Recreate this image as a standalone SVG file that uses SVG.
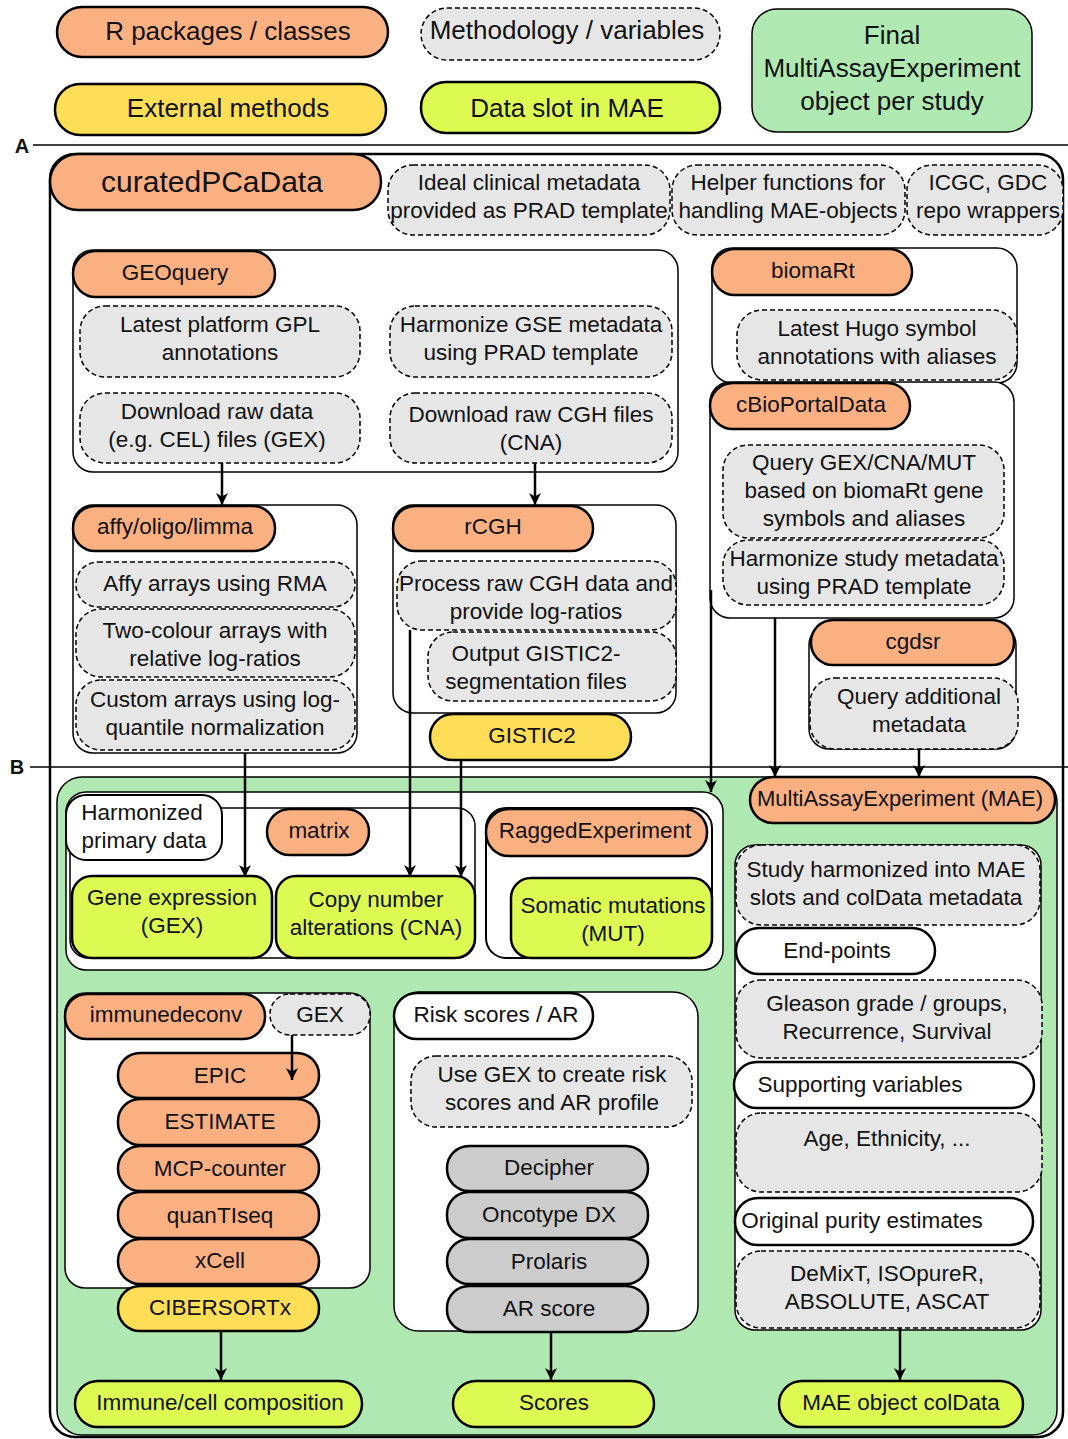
<svg xmlns="http://www.w3.org/2000/svg" width="1068" height="1439" viewBox="0 0 1068 1439">
<style>
text{font-family:"Liberation Sans",Arial,sans-serif;font-size:22.5px;text-anchor:middle;fill:#111}
.pk{fill:#fbb081;stroke:#000;stroke-width:2.5}
.ext{fill:#fedd57;stroke:#000;stroke-width:2.5}
.slot{fill:#ddfa52;stroke:#000;stroke-width:2.5}
.meth{fill:#e6e6e6;stroke:#000;stroke-width:1.5;stroke-dasharray:5,3}
.cont{fill:#fff;stroke:#000;stroke-width:1.5}
.wp{fill:#fff;stroke:#000;stroke-width:2.5}
.gray{fill:#cccccc;stroke:#000;stroke-width:2.5}
.fin{fill:#afe9b1;stroke:#000;stroke-width:1.5}
.conn{stroke:#000;stroke-width:2.5;fill:none;marker-end:url(#ah)}
.sep{stroke:#000;stroke-width:1.5}
.lg{font-size:26px}
.lbl{font-weight:bold;font-size:20px}
</style>
<defs>
<marker id="ah" markerWidth="12" markerHeight="12" viewBox="0 0 10 10" refX="10" refY="5" orient="auto" markerUnits="userSpaceOnUse">
<path d="M0,0 L10,5 L0,10 L3,5 z" fill="#000"/>
</marker>
</defs>
<rect width="1068" height="1439" fill="#fff"/>

<!-- Legend -->
<g id="legend">
<g id="lg-pkg"><rect class="pk" x="57" y="7" width="331" height="50" rx="25"/><text class="lg" x="228" y="40">R packages / classes</text></g>
<g id="lg-meth"><rect class="meth" x="421" y="8" width="299" height="52" rx="26"/><text class="lg" x="567" y="39">Methodology / variables</text></g>
<g id="lg-final"><rect class="fin" x="752" y="9" width="280" height="123" rx="25"/><text class="lg" x="892" y="44">Final</text><text class="lg" x="892" y="77">MultiAssayExperiment</text><text class="lg" x="892" y="110">object per study</text></g>
<g id="lg-ext"><rect class="ext" x="55" y="84" width="331" height="51" rx="25"/><text class="lg" x="228" y="117">External methods</text></g>
<g id="lg-slot"><rect class="slot" x="421" y="82" width="299" height="51" rx="25"/><text class="lg" x="567" y="117">Data slot in MAE</text></g>
</g>

<!-- Outer box -->
<g id="outer"><rect x="50" y="154" width="1013" height="1283" rx="25" fill="#fff" stroke="#000" stroke-width="2.5"/></g>

<line class="sep" x1="33" y1="145" x2="1068" y2="145"/>
<text class="lbl" x="22" y="153">A</text>
<line class="sep" x1="30" y1="767" x2="1068" y2="767"/>
<text class="lbl" x="17" y="774">B</text>

<g id="curatedPCaData"><rect class="pk" x="50" y="154" width="331" height="56" rx="28"/><text x="212" y="192" style="font-size:30px">curatedPCaData</text></g>
<g id="ideal"><rect class="meth" x="388" y="165" width="282" height="70" rx="25"/><text x="529" y="190">Ideal clinical metadata</text><text x="529" y="218">provided as PRAD template</text></g>
<g id="helper"><rect class="meth" x="672" y="165" width="233" height="70" rx="25"/><text x="788" y="190">Helper functions for</text><text x="788" y="218">handling MAE-objects</text></g>
<g id="icgc"><rect class="meth" x="907" y="165" width="156" height="70" rx="25"/><text x="988" y="190">ICGC, GDC</text><text x="988" y="218">repo wrappers</text></g>

<!-- GEOquery -->
<g id="geoquery">
<rect class="cont" x="73" y="250" width="605" height="222" rx="20"/>
<rect class="pk" x="73" y="251" width="202" height="46" rx="23"/><text x="175" y="280">GEOquery</text>
<rect class="meth" x="80" y="306" width="280" height="71" rx="25"/><text x="220" y="332">Latest platform GPL</text><text x="220" y="360">annotations</text>
<rect class="meth" x="390" y="306" width="282" height="71" rx="25"/><text x="531" y="332">Harmonize GSE metadata</text><text x="531" y="360">using PRAD template</text>
<rect class="meth" x="80" y="393" width="280" height="70" rx="25"/><text x="217" y="419">Download raw data</text><text x="217" y="447">(e.g. CEL) files (GEX)</text>
<rect class="meth" x="390" y="393" width="282" height="70" rx="25"/><text x="531" y="422">Download raw CGH files</text><text x="531" y="450">(CNA)</text>
</g>

<!-- biomaRt -->
<g id="biomart">
<rect class="cont" x="712" y="248" width="305" height="135" rx="20"/>
<rect class="pk" x="712" y="249" width="200" height="46" rx="23"/><text x="813" y="278">biomaRt</text>
<rect class="meth" x="737" y="310" width="280" height="70" rx="25"/><text x="877" y="336">Latest Hugo symbol</text><text x="877" y="364">annotations with aliases</text>
</g>

<!-- cBioPortalData -->
<g id="cbioportal">
<rect class="cont" x="710" y="382" width="304" height="236" rx="20"/>
<rect class="pk" x="710" y="383" width="200" height="46" rx="23"/><text x="811" y="412">cBioPortalData</text>
<rect class="meth" x="723" y="445" width="281" height="93" rx="25"/><text x="864" y="470">Query GEX/CNA/MUT</text><text x="864" y="498">based on biomaRt gene</text><text x="864" y="526">symbols and aliases</text>
<rect class="meth" x="723" y="540" width="281" height="65" rx="25"/><text x="864" y="566">Harmonize study metadata</text><text x="864" y="594">using PRAD template</text>
</g>

<!-- cgdsr -->
<g id="cgdsr">
<rect class="cont" x="809" y="625" width="207" height="124" rx="20"/>
<rect class="pk" x="811" y="620" width="203" height="45" rx="22"/><text x="913" y="649">cgdsr</text>
<rect class="meth" x="810" y="678" width="208" height="71" rx="25"/><text x="919" y="704">Query additional</text><text x="919" y="732">metadata</text>
</g>

<!-- affy -->
<g id="affy">
<rect class="cont" x="73" y="505" width="284" height="248" rx="20"/>
<rect class="pk" x="73" y="506" width="202" height="45" rx="22"/><text x="175" y="534">affy/oligo/limma</text>
<rect class="meth" x="76" y="562" width="279" height="45" rx="22"/><text x="215" y="591">Affy arrays using RMA</text>
<rect class="meth" x="76" y="609" width="279" height="68" rx="25"/><text x="215" y="638">Two-colour arrays with</text><text x="215" y="666">relative log-ratios</text>
<rect class="meth" x="76" y="680" width="279" height="70" rx="25"/><text x="215" y="707">Custom arrays using log-</text><text x="215" y="735">quantile normalization</text>
</g>

<!-- rCGH -->
<g id="rcgh">
<rect class="cont" x="393" y="505" width="283" height="208" rx="20"/>
<rect class="pk" x="393" y="506" width="200" height="45" rx="22"/><text x="493" y="534">rCGH</text>
<rect class="meth" x="397" y="561" width="279" height="69" rx="25"/><text x="536" y="591">Process raw CGH data and</text><text x="536" y="619">provide log-ratios</text>
<rect class="meth" x="428" y="632" width="248" height="69" rx="25"/><text x="536" y="661">Output GISTIC2-</text><text x="536" y="689">segmentation files</text>
</g>
<g id="gistic2"><rect class="ext" x="430" y="714" width="201" height="46" rx="23"/><text x="532" y="743">GISTIC2</text></g>

<!-- Green final area -->
<g id="final-area"><rect class="fin" x="57" y="777" width="1000" height="658" rx="25"/></g>

<g id="mae"><rect class="pk" x="750" y="777" width="305" height="46" rx="23"/><text x="900" y="806" style="font-size:22px">MultiAssayExperiment (MAE)</text></g>

<!-- Harmonized primary data -->
<g id="harmonized">
<rect class="cont" x="66" y="792" width="657" height="178" rx="20"/>
<rect class="cont" x="70" y="808" width="405" height="150" rx="18"/>
<rect x="66" y="795" width="156" height="65" rx="20" fill="#fff" stroke="#000" stroke-width="2"/>
<text x="142" y="820">Harmonized</text><text x="144" y="848">primary data</text>
<rect class="pk" x="267" y="809" width="102" height="46" rx="23"/><text x="319" y="838">matrix</text>
<rect class="slot" x="72" y="876" width="200" height="82" rx="20"/><text x="172" y="905">Gene expression</text><text x="172" y="933">(GEX)</text>
<rect class="slot" x="276" y="876" width="199" height="82" rx="20"/><text x="376" y="907">Copy number</text><text x="376" y="935">alterations (CNA)</text>
<rect class="cont" x="486" y="808" width="226" height="150" rx="20" style="stroke-width:2"/>
<rect class="pk" x="486" y="809" width="221" height="47" rx="23"/><text x="595" y="838">RaggedExperiment</text>
<rect class="slot" x="511" y="878" width="201" height="80" rx="20"/><text x="613" y="913">Somatic mutations</text><text x="613" y="941">(MUT)</text>
</g>

<!-- colData column -->
<g id="coldata">
<rect class="cont" x="735" y="845" width="306" height="485" rx="20"/>
<rect class="meth" x="736" y="845" width="304" height="80" rx="25"/><text x="886" y="877">Study harmonized into MAE</text><text x="886" y="905">slots and colData metadata</text>
<rect class="wp" x="736" y="928" width="199" height="46" rx="23"/><text x="837" y="958">End-points</text>
<rect class="meth" x="736" y="980" width="306" height="78" rx="25"/><text x="887" y="1011">Gleason grade / groups,</text><text x="887" y="1039">Recurrence, Survival</text>
<rect class="wp" x="734" y="1062" width="300" height="46" rx="23"/><text x="860" y="1092">Supporting variables</text>
<rect class="meth" x="736" y="1113" width="306" height="79" rx="25"/><text x="887" y="1146">Age, Ethnicity, ...</text>
<rect class="wp" x="735" y="1198" width="298" height="47" rx="23"/><text x="862" y="1228">Original purity estimates</text>
<rect class="meth" x="736" y="1251" width="304" height="77" rx="25"/><text x="887" y="1281">DeMixT, ISOpureR,</text><text x="887" y="1309">ABSOLUTE, ASCAT</text>
</g>

<!-- immunedeconv -->
<g id="immunedeconv">
<rect class="cont" x="65" y="993" width="305" height="295" rx="20"/>
<rect class="pk" x="65" y="994" width="200" height="45" rx="22"/><text x="166" y="1022">immunedeconv</text>
<rect class="meth" x="270" y="994" width="100" height="41" rx="20"/><text x="320" y="1022">GEX</text>
<rect class="pk" x="118" y="1053" width="201" height="45" rx="22"/><text x="220" y="1083">EPIC</text>
<rect class="pk" x="118" y="1099" width="201" height="46" rx="22"/><text x="220" y="1129">ESTIMATE</text>
<rect class="pk" x="118" y="1146" width="201" height="45" rx="22"/><text x="220" y="1176">MCP-counter</text>
<rect class="pk" x="118" y="1192" width="201" height="46" rx="22"/><text x="220" y="1223">quanTIseq</text>
<rect class="pk" x="118" y="1239" width="201" height="45" rx="22"/><text x="220" y="1268">xCell</text>
<rect class="ext" x="118" y="1286" width="201" height="45" rx="22"/><text x="220" y="1315">CIBERSORTx</text>
</g>

<!-- Risk scores -->
<g id="riskscores">
<rect class="cont" x="394" y="992" width="304" height="339" rx="25"/>
<rect class="wp" x="394" y="993" width="199" height="46" rx="23"/><text x="496" y="1022">Risk scores / AR</text>
<rect class="meth" x="411" y="1056" width="281" height="71" rx="25"/><text x="552" y="1082">Use GEX to create risk</text><text x="552" y="1110">scores and AR profile</text>
<rect class="gray" x="447" y="1146" width="201" height="45" rx="22"/><text x="549" y="1175">Decipher</text>
<rect class="gray" x="447" y="1192" width="201" height="46" rx="22"/><text x="549" y="1222">Oncotype DX</text>
<rect class="gray" x="447" y="1239" width="201" height="45" rx="22"/><text x="549" y="1269">Prolaris</text>
<rect class="gray" x="447" y="1286" width="201" height="46" rx="22"/><text x="549" y="1316">AR score</text>
</g>

<!-- Outputs -->
<g id="immune-out"><rect class="slot" x="75" y="1381" width="287" height="46" rx="23"/><text x="220" y="1410">Immune/cell composition</text></g>
<g id="scores-out"><rect class="slot" x="453" y="1381" width="201" height="46" rx="23"/><text x="554" y="1410">Scores</text></g>
<g id="coldata-out"><rect class="slot" x="779" y="1381" width="244" height="46" rx="23"/><text x="901" y="1410">MAE object colData</text></g>

<!-- Connectors -->
<g id="connectors">
<path class="conn" d="M222,463 L222,505"/>
<path class="conn" d="M535,463 L535,505"/>
<path class="conn" d="M245,753 L245,877"/>
<path class="conn" d="M410,630 L410,877"/>
<path class="conn" d="M461,760 L461,877"/>
<path class="conn" d="M711,590 L711,792"/>
<path class="conn" d="M775,618 L775,777"/>
<path class="conn" d="M919,749 L919,777"/>
<path class="conn" d="M292,1035 L292,1080"/>
<path class="conn" d="M221,1331 L221,1380"/>
<path class="conn" d="M551,1332 L551,1380"/>
<path class="conn" d="M900,1328 L900,1380"/>
</g>
</svg>
